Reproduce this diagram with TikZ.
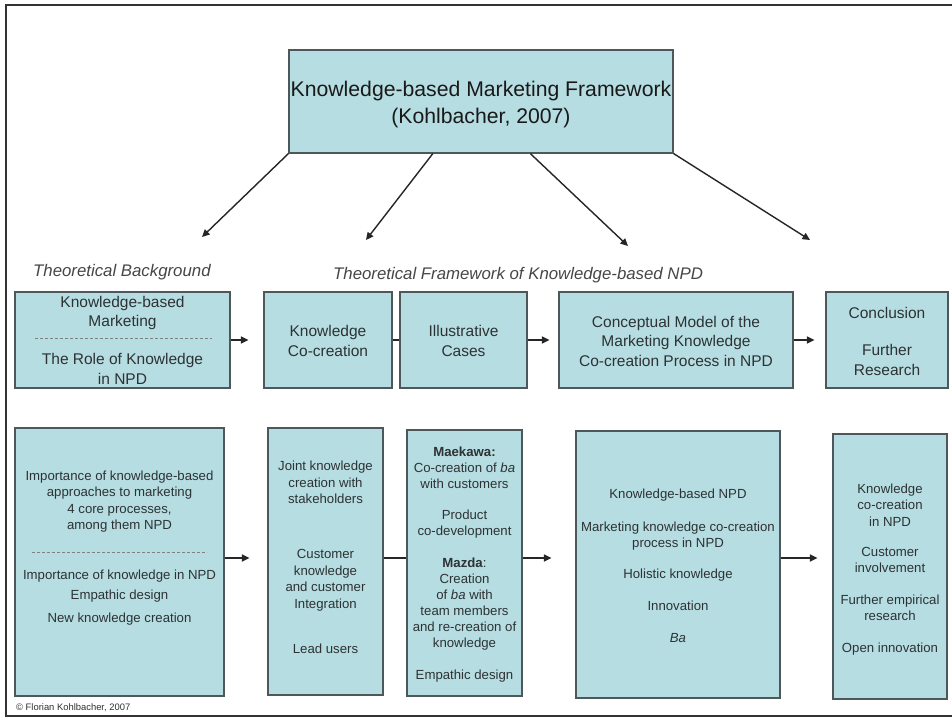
\documentclass[tikz,border=0pt]{standalone}
\usepackage{fontspec}
\setmainfont{Liberation Sans}
\usetikzlibrary{arrows.meta,calc}
\definecolor{boxfill}{RGB}{182,221,226}
\definecolor{boxline}{RGB}{78,88,90}
\definecolor{txt}{RGB}{45,50,52}
\definecolor{hdr}{RGB}{70,70,70}
\begin{document}
\begin{tikzpicture}[x=1pt,y=-1pt,
  box/.style={draw=boxline, line width=1.1pt, fill=boxfill, inner sep=0pt},
  rowone/.style={text=txt, align=center, font=\fontsize{15.5}{19.5}\selectfont, inner sep=0pt},
  rowtwo/.style={text=txt, align=center, font=\fontsize{13.2}{16.5}\selectfont, inner sep=0pt},
  hdrtext/.style={text=hdr, anchor=west, inner sep=0pt, font=\fontsize{16.8}{20}\selectfont\itshape},
  conn/.style={line width=1.4pt, draw=black!85},
  arr/.style={conn, -{Triangle[length=7.5pt,width=7pt]}},
  sepline/.style={draw=gray, line width=0.7pt, dash pattern=on 3pt off 2pt},
  ]
\useasboundingbox (0,0) rectangle (952,722);
\fill[white] (0,0) rectangle (952,722);
% frame
\draw[line width=1.6pt, draw=black!80] (952,5) -- (6,5) -- (6,716) -- (952,716);

% top box
\node[box, minimum width=384pt, minimum height=103pt] (T) at (481,101.5) {};
\node[align=center, inner sep=0pt, font=\fontsize{21.2}{27}\selectfont, text=black!90] (Ttext) at (481,104.5)
  {Knowledge-based Marketing Framework\\(Kohlbacher, 2007)};

% top arrows
\coordinate (t1) at (202,237);
\coordinate (t2) at (366,240);
\coordinate (t3) at (628,246);
\coordinate (t4) at (810,240);
\draw[arr] (T.south west) -- (t1);
\draw[arr] ($(T.south west)!0.375!(T.south east)$) -- (t2);
\draw[arr] ($(T.south west)!0.628!(T.south east)$) -- (t3);
\draw[arr] (T.south east) -- (t4);

% headers
\node[hdrtext] (h1) at (33,272) {Theoretical Background};
\node[hdrtext] (h2) at (333,275) {Theoretical Framework of Knowledge-based NPD};

% row 1 boxes
\node[box, minimum width=215pt, minimum height=96pt] (A) at (122.5,340) {};
\node[box, minimum width=128pt, minimum height=96pt] (B) at (328,340) {};
\node[box, minimum width=127pt, minimum height=96pt] (C) at (463.5,340) {};
\node[box, minimum width=234pt, minimum height=96pt] (D) at (676,340) {};
\node[box, minimum width=122pt, minimum height=96pt] (E) at (887,340) {};

\node[rowone] (Atop) at (122.5,313) {Knowledge-based\\Marketing};
\draw[sepline] (35,338) -- (212,338);
\node[rowone] (Abot) at (122.5,369) {The Role of Knowledge\\in NPD};
\node[rowone] (Btext) at (328,341) {Knowledge\\Co-creation};
\node[rowone] (Ctext) at (463.5,341) {Illustrative\\Cases};
\node[rowone] (Dtext) at (676,341) {Conceptual Model of the\\Marketing Knowledge\\Co-creation Process in NPD};
\node[rowone] (Etext) at (887,341.4) {Conclusion\\[17.5pt]Further\\Research};

\draw[arr, shorten >=15pt] (A.east) -- (B.west);
\draw[conn] (B.east) -- (C.west);
\draw[arr, shorten >=9pt] (C.east) -- (D.west);
\draw[arr, shorten >=11pt] (D.east) -- (E.west);

% row 2 boxes
\node[box, minimum width=209pt, minimum height=268pt] (F) at (119.5,562) {};
\node[box, minimum width=115pt, minimum height=267pt] (G) at (325.5,561.5) {};
\node[box, minimum width=115pt, minimum height=266pt] (H) at (464.5,563) {};
\node[box, minimum width=204pt, minimum height=267pt] (I) at (678,564.5) {};
\node[box, minimum width=114pt, minimum height=265pt] (J) at (890,566.5) {};

\node[rowtwo] (Ftop) at (119.5,501.5) {Importance of knowledge-based\\approaches to marketing\\4 core processes,\\among them NPD};
\draw[sepline] (32,552) -- (207,552);
\node[rowtwo] (Fbot) at (119.5,597.5) {Importance of knowledge in NPD\\[3.5pt]Empathic design\\[6.5pt]New knowledge creation};
\node[rowtwo] (Gtext) at (325.5,557.5) {Joint knowledge\\creation with\\stakeholders\\[38.5pt]Customer\\knowledge\\and customer\\Integration\\[29pt]Lead users};
\node[rowtwo, font=\fontsize{13.2}{16}\selectfont] (Htext) at (464.5,565) {\textbf{Maekawa:}\\Co-creation of \textit{ba}\\with customers\\[15pt]Product\\co-development\\[16pt]\textbf{Mazda}:\\Creation\\of \textit{ba} with\\team members\\and re-creation of\\knowledge\\[16pt]Empathic design};
\node[rowtwo] (Itext) at (678,566) {Knowledge-based NPD\\[16.5pt]Marketing knowledge co-creation\\process in NPD\\[14.5pt]Holistic knowledge\\[15.5pt]Innovation\\[15.5pt]\textit{Ba}};
\node[rowtwo] (Jtext) at (890,569.5) {Knowledge\\co-creation\\in NPD\\[13.5pt]Customer\\involvement\\[15pt]Further empirical\\research\\[15pt]Open innovation};

\coordinate (r2) at (0,558);
\draw[arr, shorten >=18pt] (F.east |- r2) -- (G.west |- r2);
\draw[conn] (G.east |- r2) -- (H.west |- r2);
\draw[arr, shorten >=24pt] (H.east |- r2) -- (I.west |- r2);
\draw[arr, shorten >=15pt] (I.east |- r2) -- (J.west |- r2);

% copyright
\node[anchor=west, inner sep=0pt, text=txt, font=\fontsize{9.4}{11}\selectfont] (copy) at (16,708) {\textcopyright{} Florian Kohlbacher, 2007};
\end{tikzpicture}
\end{document}
